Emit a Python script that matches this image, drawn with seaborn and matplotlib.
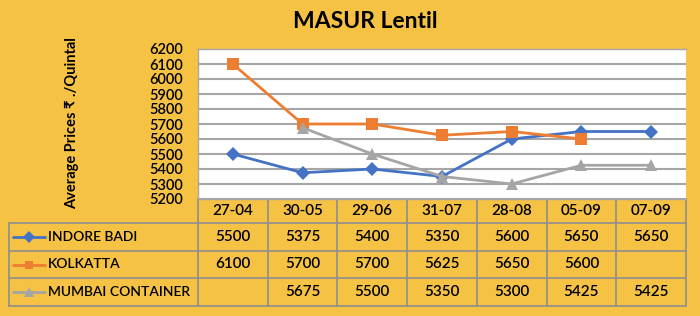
import numpy as np
import pandas as pd
import matplotlib
matplotlib.use("Agg")
import matplotlib.pyplot as plt
import seaborn as sns
from matplotlib.lines import Line2D

# ---- data -------------------------------------------------------------
dates = ["27-04", "30-05", "29-06", "31-07", "28-08", "05-09", "07-09"]
indore_badi = [5500, 5375, 5400, 5350, 5600, 5650, 5650]
kolkatta = [6100, 5700, 5700, 5625, 5650, 5600, np.nan]
mumbai_container = [np.nan, 5675, 5500, 5350, 5300, 5425, 5425]
series_names = ["INDORE BADI", "KOLKATTA", "MUMBAI CONTAINER"]
series_values = [indore_badi, kolkatta, mumbai_container]
y_ticks = list(range(5200, 6201, 100))

# ---- styling ----------------------------------------------------------
BG = "#F5C244"
GRID = "#A6A6A6"
TABLE_LINE = "#8E8E8E"
colors = ["#4472C4", "#ED7D31", "#A5A5A5"]
markers = ["D", "s", "^"]
marker_sizes = [7.5, 8, 8.5]
WEIGHT = "semibold"

sns.set_theme(style="white")
plt.rcParams["font.family"] = ["Lato", "DejaVu Sans"]

W, H = 700, 316
fig = plt.figure(figsize=(W / 100, H / 100), dpi=100, facecolor=BG)

# pixel frame of the plot area
L, R, T, B = 198, 686, 49, 199

# overlay axes in pixel units for the data table
tab = fig.add_axes([0, 0, 1, 1])
tab.set_xlim(0, W)
tab.set_ylim(H, 0)
tab.axis("off")
tab.patch.set_alpha(0)

ax = fig.add_axes([L / W, 1 - B / H, (R - L) / W, (B - T) / H])
ax.set_facecolor("white")

rows = []
for name, vals in zip(series_names, series_values):
    for i, v in enumerate(vals):
        rows.append((name, i, v))
df = pd.DataFrame(rows, columns=["series", "pos", "price"]).dropna()

for name, col, mk, ms in zip(series_names, colors, markers, marker_sizes):
    sub = df[df["series"] == name]
    sns.lineplot(data=sub, x="pos", y="price", color=col, marker=mk,
                 markersize=ms, markeredgewidth=0, linewidth=2,
                 ax=ax, legend=False)

ax.set_xlim(-0.5, len(dates) - 0.5)
ax.set_ylim(min(y_ticks), max(y_ticks))
ax.set_yticks(y_ticks)
ax.set_xticks([])
ax.set_xlabel("")
ax.set_ylabel("")
ax.grid(axis="y", color=GRID, linewidth=1.5)
ax.set_axisbelow(True)
ax.tick_params(axis="y", length=0, pad=11, labelsize=10.5, colors="black")
for lbl in ax.get_yticklabels():
    lbl.set_fontweight(WEIGHT)
for s in ax.spines.values():
    s.set_color(GRID)
    s.set_linewidth(1)
ax.spines["right"].set_visible(False)

# ---- data table -------------------------------------------------------
ncol = len(dates)
colw = (R - L) / ncol
x_edges = [L + k * colw for k in range(ncol + 1)]
x_centers = [L + (k + 0.5) * colw for k in range(ncol)]
row_edges = [B, 223, 251, 278, 306]
TL = 9

for xe in x_edges:
    tab.plot([xe, xe], [B, row_edges[-1]], color=TABLE_LINE, lw=1.2)
tab.plot([TL, TL], [row_edges[1], row_edges[-1]], color=TABLE_LINE, lw=1.2)
for ye in row_edges[1:]:
    tab.plot([TL, R], [ye, ye], color=TABLE_LINE, lw=1.2)

fs_num = 11
fs_lbl = 10
hy = (row_edges[0] + row_edges[1]) / 2
for xc, d in zip(x_centers, dates):
    tab.text(xc, hy, d, ha="center", va="center", fontsize=fs_num,
             fontweight=WEIGHT, color="black")

for r, (name, vals, col, mk, ms) in enumerate(
        zip(series_names, series_values, colors, markers, marker_sizes)):
    yc = (row_edges[r + 1] + row_edges[r + 2]) / 2
    tab.add_line(Line2D([13, 45], [yc, yc], color=col, lw=2))
    tab.add_line(Line2D([29], [yc], color=col, marker=mk,
                        markersize=ms * 0.8, markeredgewidth=0))
    tab.text(48, yc, name, ha="left", va="center", fontsize=fs_lbl,
             fontweight=WEIGHT, color="black")
    for xc, v in zip(x_centers, vals):
        if not np.isnan(v):
            tab.text(xc, yc, f"{int(v)}", ha="center", va="center",
                     fontsize=fs_num, fontweight=WEIGHT, color="black")

# ---- titles -----------------------------------------------------------
fig.text(365 / W, 1 - 22 / H, "MASUR Lentil", ha="center", va="center",
         fontsize=16.5, fontweight="bold", color="black")
fig.text(72 / W, 1 - 123 / H, "Average Prices ₹ ./Quintal", rotation=90,
         ha="center", va="center", fontsize=10.5, fontweight="bold",
         color="black")

fig.savefig("out.png", dpi=100, facecolor=BG)
